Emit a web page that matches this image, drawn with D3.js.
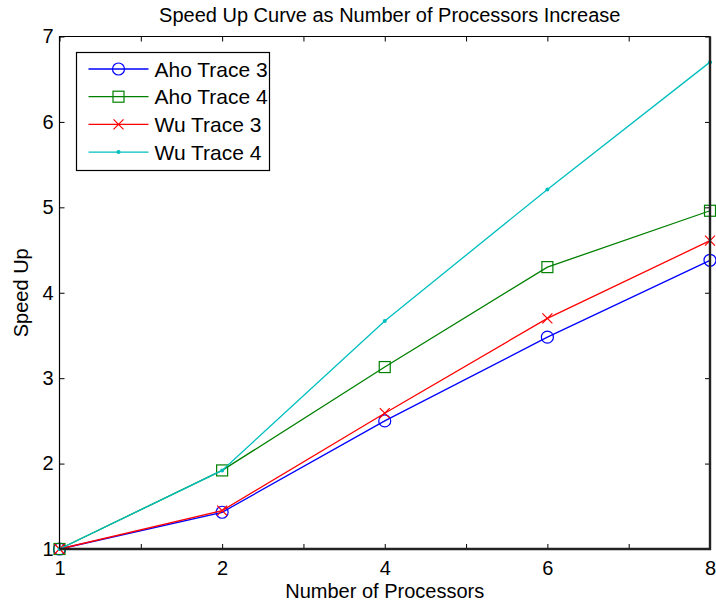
<!DOCTYPE html>
<html>
<head>
<meta charset="utf-8">
<script src="https://cdn.jsdelivr.net/npm/d3@7"></script>
<style>
  body { margin: 0; background: #fff; }
  text { font-family: "Liberation Sans", Arial, sans-serif; fill: #000; }
</style>
</head>
<body>
<svg id="chart" width="716" height="603"></svg>
<script>
// processors (categorical positions along x)
var processors = ["1", "2", "4", "6", "8"];

var ahoTrace3 = [1.00, 1.43, 2.50, 3.48, 4.38];
var ahoTrace4 = [1.00, 1.92, 3.13, 4.30, 4.96];
var wuTrace3  = [1.00, 1.45, 2.59, 3.70, 4.61];
var wuTrace4  = [1.00, 1.92, 3.67, 5.21, 6.70];

var seriesNames = ["Aho Trace 3", "Aho Trace 4", "Wu Trace 3", "Wu Trace 4"];
var yTicks = [1, 2, 3, 4, 5, 6, 7];

var series = [
  { name: seriesNames[0], values: ahoTrace3, color: "#0000ff", marker: "circle" },
  { name: seriesNames[1], values: ahoTrace4, color: "#008000", marker: "square" },
  { name: seriesNames[2], values: wuTrace3,  color: "#ff0000", marker: "cross" },
  { name: seriesNames[3], values: wuTrace4,  color: "#00bfbf", marker: "dot" }
];

var margin = { top: 36.5, right: 6, bottom: 54, left: 59.5 },
    width = 716 - margin.left - margin.right,
    height = 603 - margin.top - margin.bottom;

var svg = d3.select("#chart");
var g = svg.append("g")
  .attr("transform", "translate(" + margin.left + "," + margin.top + ")");

// x runs over the index of each processor count, ticks every half step
var x = d3.scaleLinear().domain([0, processors.length - 1]).range([0, width]);
var y = d3.scaleLinear().domain([1, 7]).range([height, 0]);

var xTickVals = d3.range(0, processors.length - 0.5, 0.5);

// inner ticks
var xBottom = d3.axisBottom(x).tickValues(xTickVals).tickSizeInner(-5).tickSizeOuter(0)
  .tickFormat(function (d) { return Number.isInteger(d) ? processors[d] : ""; });
var xTop = d3.axisTop(x).tickValues(xTickVals).tickSizeInner(-5).tickSizeOuter(0).tickFormat("");
var yLeft = d3.axisLeft(y).tickValues(yTicks).tickSizeInner(-5).tickSizeOuter(0).tickFormat(d3.format("d"));
var yRight = d3.axisRight(y).tickValues(yTicks).tickSizeInner(-5).tickSizeOuter(0).tickFormat("");

function styleAxis(sel) {
  sel.select(".domain").remove();
  sel.selectAll(".tick line").attr("stroke", "#000").attr("stroke-width", 1);
  sel.selectAll(".tick text")
    .style("font-size", "20px")
    .style("font-family", "'Liberation Sans', Arial, sans-serif");
}

g.append("g").attr("transform", "translate(0," + height + ")").call(xBottom).call(styleAxis)
  .selectAll(".tick text").attr("dy", null).attr("y", 26);
g.append("g").call(xTop).call(styleAxis);
g.append("g").call(yLeft).call(styleAxis)
  .selectAll(".tick text").attr("x", -6);
g.append("g").attr("transform", "translate(" + width + ",0)").call(yRight).call(styleAxis);

// lines and markers
var line = d3.line()
  .x(function (d, i) { return x(i); })
  .y(function (d) { return y(d); });

function drawMarker(sel, type, color) {
  if (type === "circle") {
    sel.append("circle").attr("r", 6).attr("fill", "none").attr("stroke", color).attr("stroke-width", 1.2);
  } else if (type === "square") {
    sel.append("rect").attr("x", -5.5).attr("y", -5.5).attr("width", 11).attr("height", 11)
      .attr("fill", "none").attr("stroke", color).attr("stroke-width", 1.2);
  } else if (type === "cross") {
    sel.append("path").attr("d", "M-5,-5L5,5M-5,5L5,-5")
      .attr("stroke", color).attr("stroke-width", 1.2).attr("fill", "none");
  } else {
    sel.append("circle").attr("r", 2).attr("fill", color);
  }
}

series.forEach(function (s) {
  g.append("path")
    .datum(s.values)
    .attr("fill", "none")
    .attr("stroke", s.color)
    .attr("stroke-width", 1.3)
    .attr("d", line);

  g.selectAll(null)
    .data(s.values)
    .enter().append("g")
    .attr("transform", function (d, i) { return "translate(" + x(i) + "," + y(d) + ")"; })
    .each(function () { drawMarker(d3.select(this), s.marker, s.color); });
});

// axes box (right and bottom edges are heavier in the original)
g.append("path")
  .attr("d", "M0," + height + "V0H" + width)
  .attr("fill", "none").attr("stroke", "#000").attr("stroke-width", 1.2);
g.append("path")
  .attr("d", "M" + width + ",0V" + height + "H0")
  .attr("fill", "none").attr("stroke", "#222").attr("stroke-width", 2.4);

// legend
var legend = svg.append("g").attr("transform", "translate(76.5,52.5)");
legend.append("rect")
  .attr("width", 193).attr("height", 118)
  .attr("fill", "#fff").attr("stroke", "#000").attr("stroke-width", 1.2);

var items = legend.selectAll(".item")
  .data(series)
  .enter().append("g")
  .attr("class", "item")
  .attr("transform", function (d, i) { return "translate(0," + (16.5 + i * 27.7) + ")"; });

items.append("line")
  .attr("x1", 12).attr("x2", 72)
  .attr("stroke", function (d) { return d.color; })
  .attr("stroke-width", 1.3);
items.append("g")
  .attr("transform", "translate(42,0)")
  .each(function (d) { drawMarker(d3.select(this), d.marker, d.color); });
items.append("text")
  .attr("x", 78).attr("dy", "0.36em")
  .style("font-size", "21px")
  .text(function (d) { return d.name; });

// titles
svg.append("text")
  .attr("x", margin.left + width / 2 + 5).attr("y", 22)
  .attr("text-anchor", "middle")
  .style("font-size", "20px")
  .text("Speed Up Curve as Number of Processors Increase");

svg.append("text")
  .attr("x", margin.left + width / 2).attr("y", 598)
  .attr("text-anchor", "middle")
  .style("font-size", "20px")
  .text("Number of Processors");

svg.append("text")
  .attr("transform", "translate(28," + (margin.top + height / 2) + ") rotate(-90)")
  .attr("text-anchor", "middle")
  .style("font-size", "20px")
  .text("Speed Up");
</script>
</body>
</html>
